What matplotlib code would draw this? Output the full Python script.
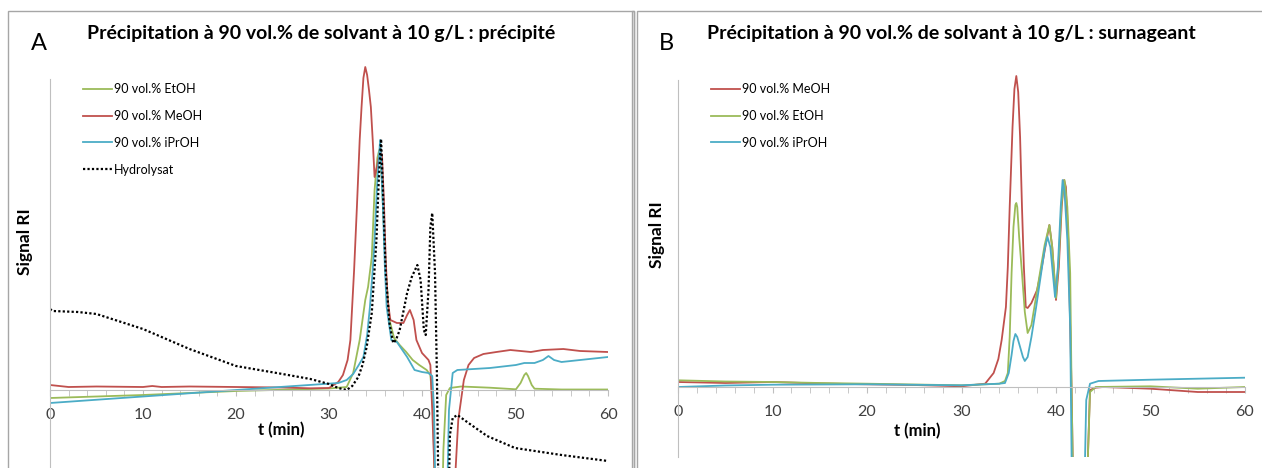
import matplotlib
matplotlib.use("Agg")
import matplotlib.pyplot as plt
from matplotlib.patches import Rectangle
from matplotlib.ticker import MultipleLocator

# ---- data (A : précipité) ----
t_eth_A = [0, 10, 20, 30, 31.9, 32.6, 33.3, 33.9, 34.2, 34.6, 34.9, 35.2, 35.4, 35.6, 35.8, 36.1, 36.5,
           37.0, 37.6, 38.3, 39.0, 39.7, 40.5, 40.9, 41.2, 41.6, 42.0, 42.3, 42.6, 43.0, 44.2, 47.3,
           50.1, 50.6, 51.0, 51.2, 51.4, 51.8, 52.1, 55, 60]
y_eth_A = [-8, -5, -1, 1.5, 3, 17, 50, 90, 103, 133, 200, 232, 240, 225, 185, 120, 70,
           52, 45, 38, 30, 25, 20, 15, -20, -200, -200, -60, -5, 2, 3.5, 2.3,
           0.7, 7, 15, 17, 14, 5, 1.3, 0.5, 0.5]

t_meoh_A = [0, 2, 5, 10, 11, 12, 15, 20, 25, 28, 30, 31, 31.5, 32.0, 32.3, 32.7, 33.0, 33.3, 33.5, 33.7,
            33.9, 34.1, 34.3, 34.5, 34.7, 34.9, 35.2, 35.5, 35.7, 35.9, 36.1, 36.3, 36.6, 37.3, 38.0,
            38.4, 38.7, 39.1, 39.4, 40.0, 40.7, 40.9, 41.1, 41.8, 42.8, 43.2, 43.9, 44.5, 45.0, 45.6,
            46.6, 48, 49.5, 51.7, 53, 55.2, 57, 60]
y_meoh_A = [5, 3, 3.5, 3, 4, 3, 3.5, 3, 2.5, 1.7, 2, 8, 15, 30, 50, 120, 183, 250, 283, 312,
            323, 315, 300, 283, 250, 213, 225, 240, 235, 190, 130, 90, 70, 67, 67,
            75, 80, 70, 50, 37, 30, 25, -20, -200, -200, -150, -30, 10, 25, 32,
            36, 38, 40, 38, 40, 41, 39, 38]

t_ipr_A = [0, 10, 20, 31, 31.9, 32.6, 33.2, 33.7, 34.1, 34.4, 34.7, 34.9, 35.2, 35.5, 35.8, 36.0, 36.2,
           36.7, 37.3, 38.4, 39.2, 40.0, 40.7, 41.1, 41.3, 41.6, 42.5, 42.9, 43.3, 43.8, 47.3, 50.1,
           51.0, 52.1, 53.0, 53.6, 54.2, 55.0, 60]
y_ipr_A = [-13, -6.5, 0, 7, 10, 16, 25, 33, 55, 83, 120, 150, 210, 250, 183, 125, 83,
           50, 48, 33, 20, 18, 17, 14, -20, -200, -200, -20, 17, 20, 22, 25,
           27, 27, 30, 34, 30, 28, 33]

t_hyd_A = [0, 0.3, 3, 5, 10, 15, 20, 25, 28, 30, 31, 31.9, 32.5, 33.15, 33.6, 34.05, 34.6, 35.1, 35.35,
           35.6, 35.8, 36.1, 36.5, 36.9, 37.2, 37.6, 38.4, 38.9, 39.5, 39.85, 40.2, 40.4, 40.7, 40.9,
           41.1, 41.4, 41.6, 41.9, 42.7, 43.0, 43.3, 43.8, 45, 47, 50, 55, 60]
y_hyd_A = [81, 79, 78, 76, 61, 41, 24, 16, 11, 6, 2, 0, 4, 13, 25, 43, 77, 150, 210,
           251, 200, 117, 67, 47, 50, 60, 97, 113, 125, 110, 60, 55, 100, 163,
           177, 117, 17, -200, -200, -45, -28, -25, -33, -46, -58, -65, -71]

# ---- data (B : surnageant) ----
t_meoh_B = [0, 5, 10, 15, 20, 25, 30, 32.5, 33.4, 33.9, 34.25, 34.7, 34.9, 35.1, 35.4, 35.6, 35.8, 36.0,
            36.2, 36.4, 36.6, 36.8, 37.0, 37.4, 38.0, 38.5, 39.0, 39.3, 39.6, 40.0, 40.3, 40.6, 40.85,
            41.05, 41.3, 41.65, 41.9, 43.1, 43.6, 44.2, 45, 50, 55, 60]
y_meoh_B = [5, 4, 5, 3.5, 2.7, 2, 0.7, 3.3, 14, 28, 47, 80, 120, 180, 260, 298, 311, 295,
            250, 180, 120, 80, 79, 84, 97, 120, 147, 162, 140, 87, 120, 180, 207,
            200, 147, -3, -150, -150, -3, -0.7, 0, -1.7, -5, -5]

t_eth_B = [0, 5, 10, 15, 20, 25, 30, 34, 34.6, 34.9, 35.1, 35.3, 35.5, 35.7, 35.8, 35.9, 36.1, 36.4,
           36.7, 37.0, 37.4, 37.8, 38.3, 38.8, 39.3, 39.6, 40.0, 40.3, 40.6, 40.9, 41.2, 41.5, 41.65,
           41.9, 43.1, 43.6, 44.2, 50, 55, 60]
y_eth_B = [6.7, 5.5, 5, 4, 3.3, 2.5, 1.7, 3.3, 6, 14, 50, 114, 160, 182, 184, 180, 150, 114,
           75, 54, 62, 85, 114, 142, 162, 140, 89, 130, 185, 207, 180, 114, -3,
           -150, -150, -5, 0, 0.7, -1.7, 0]

t_ipr_B = [0, 5, 10, 20, 30, 34, 34.6, 35.0, 35.3, 35.5, 35.7, 35.9, 36.2, 36.5, 36.7, 37.0, 37.4, 37.9,
           38.4, 38.8, 39.1, 39.4, 39.7, 39.9, 40.2, 40.5, 40.7, 40.9, 41.2, 41.5, 41.65, 41.9, 42.9,
           43.2, 43.6, 44.5, 50, 55, 60]
y_ipr_B = [0, 1.5, 2.3, 2.7, 1.7, 3.3, 4, 14, 32, 46, 53, 50, 40, 30, 26, 30, 50, 80,
           112, 138, 150, 140, 110, 90, 120, 180, 207, 195, 147, 60, -70, -150, -150,
           -13, 3.3, 6, 7.3, 8.3, 9.3]

GREEN = "#9bbb59"
RED = "#c0504d"
CYAN = "#4bacc6"
GREY = "#bfbfbf"
FONT = "Lato"

W, H = 1262, 468
fig = plt.figure(figsize=(W / 100, H / 100), dpi=100)


def fx(px):
    return px / W


def fy(py):
    return 1 - py / H


def style_axes(ax, spine_top):
    ax.set_xlim(0, 60)
    for s in ["top", "right"]:
        ax.spines[s].set_visible(False)
    ax.spines["bottom"].set_position(("data", 0))
    ax.spines["bottom"].set_color(GREY)
    ax.spines["left"].set_color(GREY)
    ax.spines["left"].set_bounds(ax.get_ylim()[0], spine_top)
    ax.set_yticks([])
    ax.xaxis.set_major_locator(MultipleLocator(10))
    ax.xaxis.set_minor_locator(MultipleLocator(2))
    ax.tick_params(axis="x", which="both", direction="out", length=4, color=GREY, pad=9,
                   labelsize=11.5, labelcolor="#404040")
    for lab in ax.get_xticklabels():
        lab.set_family(FONT)
    ax.patch.set_alpha(0)


# panel frames
fig.patches.append(Rectangle((fx(8), fy(480)), fx(626), fy(11) - fy(480), transform=fig.transFigure,
                             fill=False, edgecolor="#a6a6a6", lw=1))
fig.patches.append(Rectangle((fx(632), fy(480)), fx(2), fy(11) - fy(480), transform=fig.transFigure,
                             fill=False, edgecolor="#a6a6a6", lw=1))
fig.patches.append(Rectangle((fx(637), fy(480)), fx(640), fy(11) - fy(480), transform=fig.transFigure,
                             fill=False, edgecolor="#a6a6a6", lw=1))

lw = 1.3
leg_kw = dict(frameon=False, handlelength=2.3, handletextpad=0.15, labelspacing=1.18,
              borderpad=0, prop={"family": FONT, "size": 9})

# ---- panel A ----
axA = fig.add_axes([fx(50), fy(475), fx(558), (475 - 50) / H])
axA.set_ylim(-85, 340)
axA.plot(t_eth_A, y_eth_A, color=GREEN, lw=lw, label="90 vol.% EtOH")
axA.plot(t_meoh_A, y_meoh_A, color=RED, lw=lw, label="90 vol.% MeOH")
axA.plot(t_ipr_A, y_ipr_A, color=CYAN, lw=lw, label="90 vol.% iPrOH")
axA.plot(t_hyd_A, y_hyd_A, color="black", lw=1.6, ls=(0, (1, 1)), label="Hydrolysat")
style_axes(axA, 311)
axA.legend(loc="upper left", bbox_to_anchor=(fx(77), fy(77)), bbox_transform=fig.transFigure, **leg_kw)

# ---- panel B ----
axB = fig.add_axes([fx(678), fy(457), fx(567), (457 - 47) / H])
axB.set_ylim(-70, 340)
axB.plot(t_meoh_B, y_meoh_B, color=RED, lw=lw, label="90 vol.% MeOH")
axB.plot(t_eth_B, y_eth_B, color=GREEN, lw=lw, label="90 vol.% EtOH")
axB.plot(t_ipr_B, y_ipr_B, color=CYAN, lw=lw, label="90 vol.% iPrOH")
style_axes(axB, 307)
axB.legend(loc="upper left", bbox_to_anchor=(fx(705), fy(77)), bbox_transform=fig.transFigure, **leg_kw)

# ---- texts ----
fig.text(fx(321), fy(33), "Précipitation à 90 vol.% de solvant à 10 g/L : précipité", ha="center",
         va="center", fontsize=14, fontweight="bold", family=FONT)
fig.text(fx(951), fy(33), "Précipitation à 90 vol.% de solvant à 10 g/L : surnageant", ha="center",
         va="center", fontsize=14, fontweight="bold", family=FONT)
fig.text(fx(39), fy(44), "A", ha="center", va="center", fontsize=17, family=FONT)
fig.text(fx(666), fy(44), "B", ha="center", va="center", fontsize=17, family=FONT)
fig.text(fx(25), fy(242), "Signal RI", rotation=90, ha="center", va="center", fontsize=12.5,
         fontweight="bold", family=FONT)
fig.text(fx(657), fy(235), "Signal RI", rotation=90, ha="center", va="center", fontsize=12.5,
         fontweight="bold", family=FONT)
fig.text(fx(281), fy(430), "t (min)", ha="center", va="center", fontsize=12, fontweight="bold", family=FONT)
fig.text(fx(917), fy(431), "t (min)", ha="center", va="center", fontsize=12, fontweight="bold", family=FONT)

fig.savefig("out.png", dpi=100)
